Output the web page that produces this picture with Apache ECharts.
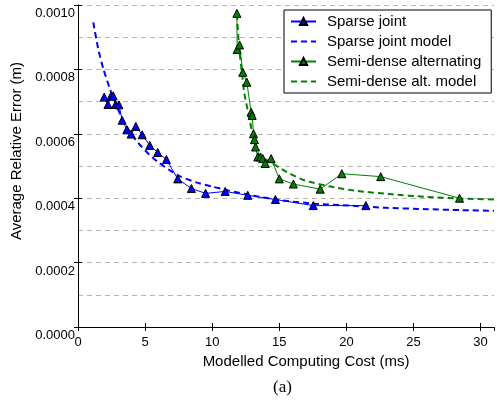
<!DOCTYPE html>
<html>
<head>
<meta charset="utf-8">
<script src="https://cdn.jsdelivr.net/npm/echarts@6/dist/echarts.min.js"></script>
<style>
  html, body {margin: 0; padding: 0; background: #fff;}
  #chart {width: 497px; height: 400px;}
</style>
</head>
<body>
<div id="chart"></div>
<script>
// Average relative error vs modelled computing cost.

const sparseJointX = [1.95, 2.23, 2.45, 2.62, 2.80, 3.05, 3.29, 3.64, 3.96, 4.31, 4.78, 5.35, 5.94, 6.59, 7.43, 8.45, 9.51, 10.97, 12.65, 14.71, 17.53, 21.45]
const sparseJointY = [0.000714, 0.000691, 0.000717, 0.000718, 0.000691, 0.000690, 0.000642, 0.000613, 0.000599, 0.000623, 0.000597, 0.000564, 0.000542, 0.000520, 0.000460, 0.000430, 0.000415, 0.000421, 0.000409, 0.000396, 0.000377, 0.000377]

const sparseModelX = [1.14, 1.5, 1.9, 2.4, 2.9, 3.4, 4.0, 4.6, 5.3, 6.0, 6.8, 7.6, 8.8, 10.0, 11.2, 12.8, 15.2, 17.7, 20.2, 23.0, 26.0, 28.5, 31.0]
const sparseModelY = [0.000946, 0.000865, 0.000800, 0.000737, 0.000684, 0.000638, 0.000598, 0.000566, 0.000536, 0.000511, 0.000488, 0.000468, 0.000449, 0.000436, 0.000424, 0.000410, 0.000393, 0.000383, 0.000377, 0.000370, 0.000366, 0.000363, 0.000361]

const semiDenseX = [11.84, 11.86, 12.04, 12.28, 12.58, 12.90, 12.98, 13.08, 13.15, 13.23, 13.40, 13.60, 13.77, 13.95, 14.39, 15.00, 16.05, 18.05, 19.66, 22.56, 28.43]
const semiDenseY = [0.000974, 0.000862, 0.000876, 0.000791, 0.000760, 0.000667, 0.000657, 0.000600, 0.000582, 0.000559, 0.000528, 0.000528, 0.000523, 0.000508, 0.000523, 0.000460, 0.000444, 0.000428, 0.000476, 0.000467, 0.000400]

const semiModelX = [11.84, 12.0, 12.2, 12.4, 12.78, 13.0, 13.4, 14.0, 14.5, 15.0, 15.75, 16.6, 17.24, 18.72, 20.7, 23.4, 25.9, 28.4, 31.0]
const semiModelY = [0.000972, 0.000870, 0.000795, 0.000724, 0.000647, 0.000600, 0.000539, 0.000520, 0.000508, 0.000495, 0.000477, 0.000460, 0.000451, 0.000437, 0.000423, 0.000412, 0.000404, 0.000399, 0.000396]

const xTicks = [0, 5, 10, 15, 20, 25, 30]
const seriesNames = ["Sparse joint", "Sparse joint model", "Semi-dense alternating", "Semi-dense alt. model"]

const FONT = "'Liberation Sans', Arial, Helvetica, sans-serif"
const BLUE = "#0000ff"
const GREEN = "#008000"

const pairs = (xs, ys) => xs.map((x, i) => [x, ys[i]])

const frameAxis = {
  axisLine: {show: true, lineStyle: {color: "#000", width: 1}},
  axisTick: {show: true, inside: true, length: 4, lineStyle: {color: "#000"}},
  splitLine: {show: false},
}

const chart = echarts.init(document.getElementById("chart"), null, {renderer: "canvas"})

chart.setOption({
  backgroundColor: "#fff",
  animation: false,
  textStyle: {fontFamily: FONT},
  title: {
    text: "(a)",
    left: 273,
    top: 379,
    padding: 0,
    textStyle: {fontFamily: "'Liberation Serif', 'Times New Roman', serif", fontWeight: "normal", fontSize: 17, color: "#000"},
  },
  grid: {left: 78, right: 3, top: 5, bottom: 73},
  legend: {
    data: [
      {name: seriesNames[0]},
      {name: seriesNames[1], itemStyle: {opacity: 0}},
      {name: seriesNames[2]},
      {name: seriesNames[3], itemStyle: {opacity: 0}},
    ],
    orient: "vertical",
    left: 284,
    top: 10,
    padding: [3, 10, 3, 6],
    itemWidth: 25,
    itemHeight: 9,
    itemGap: 3,
    backgroundColor: "#fff",
    borderColor: "#000",
    borderWidth: 1,
    borderRadius: 0,
    textStyle: {fontFamily: FONT, fontSize: 15, lineHeight: 17, color: "#000", padding: [0, 0, 0, 6]},
  },
  xAxis: [
    {
      type: "value",
      position: "bottom",
      min: 0,
      max: 31,
      interval: 5,
      ...frameAxis,
      axisLabel: {
        color: "#000",
        fontSize: 13,
        margin: 9,
        showMaxLabel: false,
        formatter: v => (xTicks.includes(v) ? String(v) : ""),
      },
      name: "Modelled Computing Cost (ms)",
      nameLocation: "middle",
      nameGap: 27,
      nameTextStyle: {color: "#000", fontSize: 15, fontFamily: FONT, padding: [0, 0, 0, 40]},
    },
    {
      type: "value",
      position: "top",
      min: 0,
      max: 31,
      interval: 5,
      ...frameAxis,
      axisLabel: {show: false},
    },
  ],
  yAxis: [
    {
      type: "value",
      position: "left",
      min: 0,
      max: 0.001,
      interval: 0.0002,
      ...frameAxis,
      axisLabel: {
        color: "#000",
        fontSize: 13,
        margin: 3,
        verticalAlign: "top",
        padding: [2, 0, 0, 0],
        formatter: v => v.toFixed(4),
      },
      name: "Average Relative Error (m)",
      nameLocation: "middle",
      nameGap: 48,
      nameTextStyle: {color: "#000", fontSize: 15, fontFamily: FONT, padding: [0, 0, 0, 30]},
    },
    {
      type: "value",
      position: "right",
      min: 0,
      max: 0.001,
      interval: 0.0002,
      ...frameAxis,
      axisLabel: {show: false},
    },
    {
      // dashed horizontal grid every 0.0001
      type: "value",
      position: "left",
      min: 0,
      max: 0.001,
      interval: 0.0001,
      axisLine: {show: false},
      axisTick: {show: false},
      axisLabel: {show: false},
      splitLine: {show: true, lineStyle: {color: "#b4b4b4", width: 1, type: [5, 4]}},
    },
  ],
  series: [
    {
      name: seriesNames[0],
      type: "line",
      data: pairs(sparseJointX, sparseJointY),
      symbol: "triangle",
      symbolSize: 8,
      z: 4,
      lineStyle: {color: BLUE, width: 1},
      itemStyle: {color: BLUE, borderColor: "#000", borderWidth: 1},
    },
    {
      name: seriesNames[1],
      type: "line",
      data: pairs(sparseModelX, sparseModelY),
      symbol: "none",
      smooth: 0.2,
      z: 3,
      lineStyle: {color: BLUE, width: 2, type: [6, 4]},
      itemStyle: {color: BLUE},
    },
    {
      name: seriesNames[2],
      type: "line",
      data: pairs(semiDenseX, semiDenseY),
      symbol: "triangle",
      symbolSize: 8,
      z: 4,
      lineStyle: {color: GREEN, width: 1},
      itemStyle: {color: GREEN, borderColor: "#000", borderWidth: 1},
    },
    {
      name: seriesNames[3],
      type: "line",
      data: pairs(semiModelX, semiModelY),
      symbol: "none",
      smooth: 0.2,
      z: 3,
      lineStyle: {color: GREEN, width: 2, type: [6, 4]},
      itemStyle: {color: GREEN},
    },
  ],
})
</script>
</body>
</html>
